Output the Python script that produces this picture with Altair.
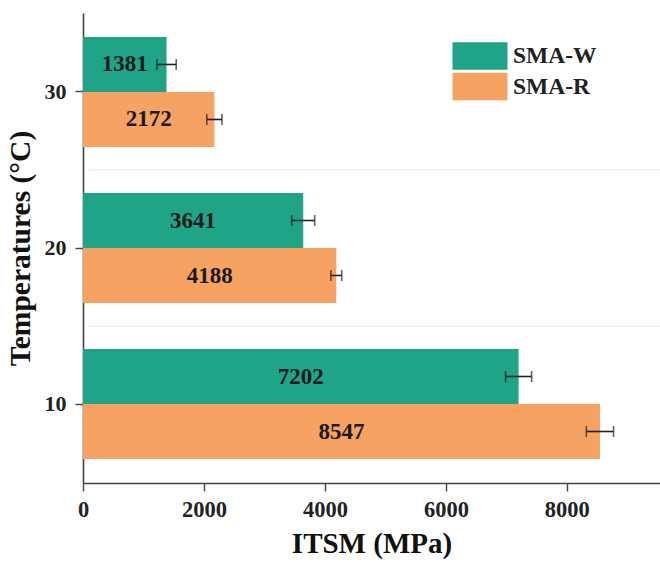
import altair as alt
import pandas as pd

temps = ["10", "20", "30"]
series = ["SMA-W", "SMA-R"]
sma_w = [7202, 3641, 1381]
sma_r = [8547, 4188, 2172]
err_w = [215, 190, 160]
err_r = [225, 90, 125]
grid_temps = ["20", "10"]

rows = []
for i, t in enumerate(temps):
    rows.append({"temp": t, "series": "SMA-W", "value": sma_w[i], "err": err_w[i]})
    rows.append({"temp": t, "series": "SMA-R", "value": sma_r[i], "err": err_r[i]})
df = pd.DataFrame(rows)
grid_df = pd.DataFrame({"temp": grid_temps})

FONT = "Liberation Serif"
W, H = 577, 470
y_order = ["30", "20", "10"]

y_enc = alt.Y("temp:N", sort=y_order,
              scale=alt.Scale(paddingInner=0.2949, paddingOuter=0.1538),
              axis=alt.Axis(title="Temperatures (°C)", titleFontSize=29.5, titlePadding=9,
                            labelFontSize=22, tickSize=8, labelPadding=9,
                            labelAngle=0))
yoff = alt.YOffset("series:N", sort=series,
                   scale=alt.Scale(paddingInner=0, paddingOuter=0))
x_scale = alt.Scale(domain=[0, 9540], nice=False, zero=True)

base = alt.Chart(df).transform_calculate(
    lo="datum.value - datum.err",
    hi="datum.value + datum.err",
    mid="datum.value / 2",
)

bars = base.mark_bar().encode(
    x=alt.X("value:Q", scale=x_scale,
            axis=alt.Axis(title="ITSM (MPa)", values=[0, 2000, 4000, 6000, 8000],
                          format="d", titleFontSize=29, labelFontSize=22.5,
                          labelFlush=False,
                          tickSize=8, labelPadding=7, titlePadding=9)),
    y=y_enc,
    yOffset=yoff,
    color=alt.Color("series:N", sort=series,
                    scale=alt.Scale(domain=series, range=["#1fa487", "#f5a262"]),
                    legend=alt.Legend(title=None, orient="none", legendX=383, legendY=29,
                                      symbolType="M-2,-1H2V1H-2Z", symbolSize=756,
                                      symbolStrokeWidth=0, symbolOpacity=1,
                                      labelFontSize=23.5, labelFont=FONT, labelFontWeight="bold",
                                      labelOffset=19, rowPadding=2.5, padding=0,
                                      labelColor="#222")),
)

err_rule = base.mark_rule(color="#222", strokeWidth=1.6).encode(
    x="lo:Q", x2="hi:Q", y=alt.Y("temp:N", sort=y_order), yOffset=yoff,
)
cap_lo = base.mark_tick(color="#222", thickness=1.6, size=11).encode(
    x="lo:Q", y=alt.Y("temp:N", sort=y_order), yOffset=yoff,
)
cap_hi = base.mark_tick(color="#222", thickness=1.6, size=11).encode(
    x="hi:Q", y=alt.Y("temp:N", sort=y_order), yOffset=yoff,
)
labels = base.mark_text(font=FONT, fontWeight="bold", fontSize=23, color="#1a1a1a",
                        baseline="middle", align="center").encode(
    x="mid:Q", y=alt.Y("temp:N", sort=y_order), yOffset=yoff, text="value:Q",
)

grid = alt.Chart(grid_df).mark_rule(color="#e6e6e6", strokeWidth=1, yOffset=-23).encode(
    y=alt.Y("temp:N", sort=y_order, bandPosition=0),
    x=alt.value(6), x2=alt.value(W),
)

chart = alt.layer(grid, bars, err_rule, cap_lo, cap_hi, labels).properties(
    width=W, height=H,
    autosize=alt.AutoSizeParams(type="none"),
    padding={"left": 83, "top": 13, "right": 0, "bottom": 85},
).configure_view(stroke=None).configure_axis(
    labelFont=FONT, titleFont=FONT, labelFontWeight="bold", titleFontWeight="bold",
    labelColor="#222", titleColor="#111", domainColor="#444", tickColor="#444",
    domainWidth=1.6, tickWidth=1.4, grid=False,
)

chart.save("out.html", embed_options={"renderer": "svg", "actions": False})
